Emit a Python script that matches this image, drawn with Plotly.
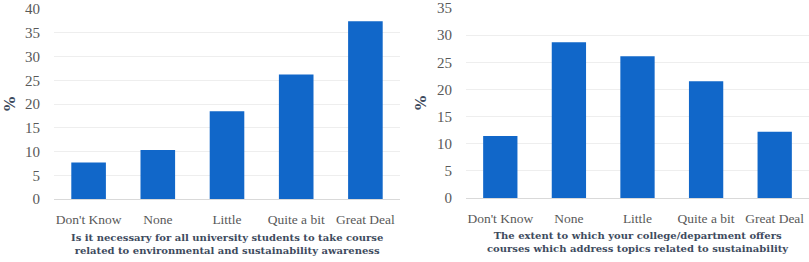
import plotly.graph_objects as go

categories = ["Don't Know", "None", "Little", "Quite a bit", "Great Deal"]
left_values = [7.7, 10.3, 18.5, 26.2, 37.4]
right_values = [11.4, 28.7, 26.1, 21.5, 12.2]
left_title = "Is it necessary for all university students to take course<br>related to environmental and sustainability awareness"
right_title = "The extent to which your college/department offers<br>courses which address topics related to sustainability"
y_title = "%"

W, H = 809, 262
tick_font = dict(family="Liberation Serif, serif", size=15, color="#595959")
cat_font = dict(family="Liberation Serif, serif", size=13.5, color="#595959")
title_font = dict(family="DejaVu Serif, serif", size=10, color="#3E4B5E")
bar_color = "#1167C9"

fig = go.Figure()
fig.add_trace(go.Bar(x=categories, y=left_values, marker=dict(color=bar_color, line=dict(width=0)),
                     xaxis="x", yaxis="y", showlegend=False))
fig.add_trace(go.Bar(x=categories, y=right_values, marker=dict(color=bar_color, line=dict(width=0)),
                     xaxis="x2", yaxis="y2", showlegend=False))

common_x = dict(showgrid=False, showline=True, linecolor="#D9D9D9", linewidth=1,
                ticks="outside", ticklen=8, tickcolor="rgba(0,0,0,0)", tickfont=cat_font,
                zeroline=False, automargin=False)
common_y = dict(showgrid=True, gridcolor="#EEEEEE", gridwidth=1, zeroline=False, showline=False,
                ticks="outside", ticklen=10, tickcolor="rgba(0,0,0,0)", tickfont=tick_font, dtick=5,
                automargin=False)

fig.update_layout(
    width=W, height=H,
    margin=dict(l=0, r=0, t=0, b=0),
    plot_bgcolor="white", paper_bgcolor="white",
    bargap=0.5,
    xaxis=dict(domain=[54 / W, 400 / W], anchor="y", **common_x),
    yaxis=dict(domain=[(H - 199) / H, (H - 9) / H], range=[0, 40], anchor="x", **common_y),
    xaxis2=dict(domain=[466 / W, 1.0], anchor="y2", **common_x),
    yaxis2=dict(domain=[(H - 198) / H, (H - 8) / H], range=[0, 35], anchor="x2", **common_y),
    annotations=[
        dict(text="<b>" + left_title + "</b>", x=227 / W, y=(H - 244) / H, xref="paper", yref="paper",
             showarrow=False, font=title_font, align="center", xanchor="center", yanchor="middle"),
        dict(text="<b>" + right_title + "</b>", x=638 / W, y=(H - 242) / H, xref="paper", yref="paper",
             showarrow=False, font=title_font, align="center", xanchor="center", yanchor="middle"),
        dict(text="<b>" + y_title + "</b>", x=10 / W, y=(H - 104) / H, xref="paper", yref="paper",
             showarrow=False, font=dict(family="DejaVu Serif, serif", size=15, color="#3E4B5E"),
             textangle=-90, xanchor="center", yanchor="middle"),
        dict(text="<b>" + y_title + "</b>", x=421 / W, y=(H - 103) / H, xref="paper", yref="paper",
             showarrow=False, font=dict(family="DejaVu Serif, serif", size=15, color="#3E4B5E"),
             textangle=-90, xanchor="center", yanchor="middle"),
    ],
)

fig.write_html("out.html", config={"displayModeBar": False},
               post_script="document.body.style.margin='0';document.body.style.overflow='hidden';")
